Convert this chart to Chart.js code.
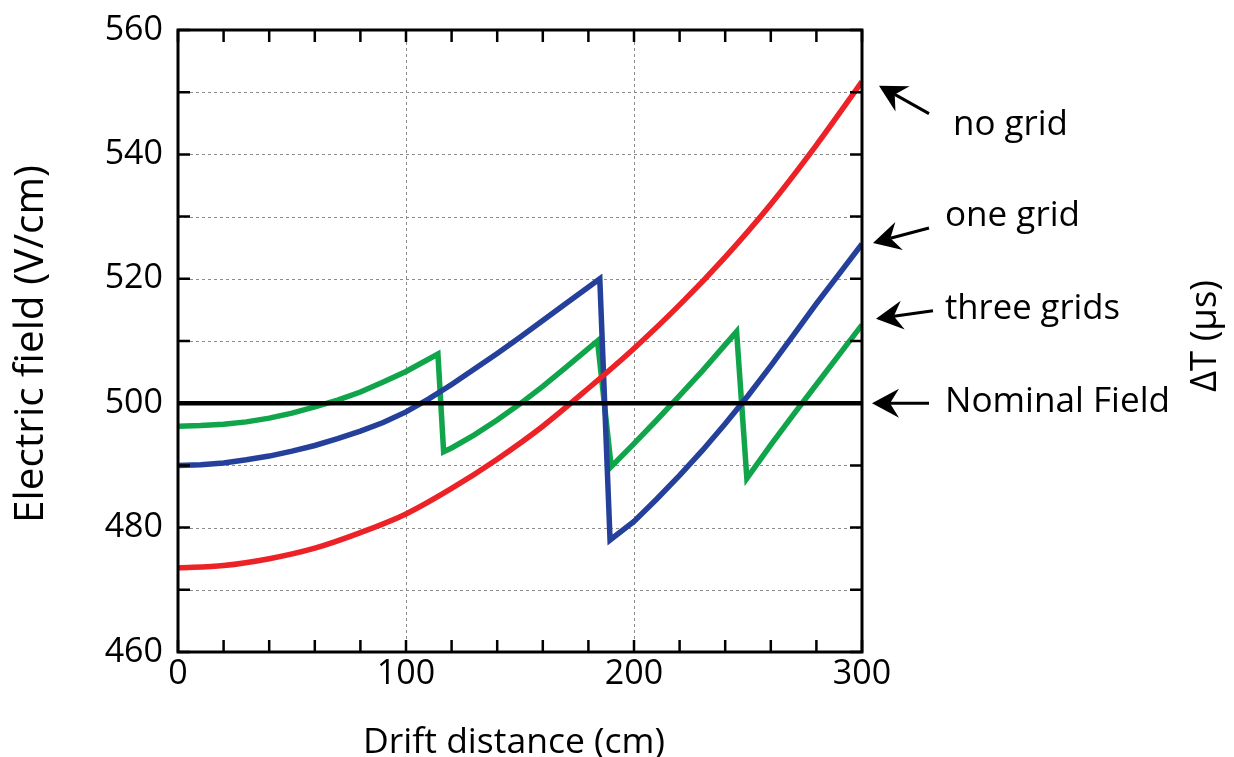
<!DOCTYPE html>
<html>
<head>
<meta charset="utf-8">
<script src="https://cdn.jsdelivr.net/npm/chart.js@4.4.1/dist/chart.umd.min.js"></script>
<style>
  html, body { margin: 0; padding: 0; background: #fff; }
  canvas { display: block; }
</style>
</head>
<body>
<canvas id="c" width="1234" height="757"></canvas>
<script>
// ---- data ----
const redX   = [0, 20, 40, 60, 80, 100, 120, 140, 160, 180, 200, 220, 240, 260, 280, 300];
const redY   = [473.5, 473.9, 475.0, 476.7, 479.2, 482.2, 486.3, 491.0, 496.3, 502.4, 508.8, 515.8, 523.5, 532.0, 541.5, 551.7];

const blueX  = [0, 10, 20, 30, 40, 50, 60, 70, 80, 90, 100, 110, 120, 130, 140, 150, 160, 170, 185,
                189.5, 200, 210, 220, 230, 240, 250, 260, 270, 280, 290, 300];
const blueY  = [490.0, 490.1, 490.4, 490.9, 491.5, 492.3, 493.2, 494.3, 495.5, 496.9, 498.6, 500.7, 503.0, 505.5, 508.0, 510.6, 513.3, 516.0, 520.0,
                478.0, 481.0, 484.6, 488.4, 492.4, 496.7, 501.2, 506.0, 511.0, 516.0, 520.8, 525.6];

const greenX = [0, 10, 20, 30, 40, 50, 60, 70, 80, 90, 100, 114,
                116.5, 120, 130, 140, 150, 160, 170, 184,
                190, 200, 210, 220, 230, 245,
                249.5, 260, 270, 280, 290, 300];
const greenY = [496.3, 496.4, 496.6, 497.0, 497.6, 498.4, 499.4, 500.5, 501.8, 503.4, 505.1, 507.9,
                492.2, 492.8, 494.9, 497.3, 499.9, 502.7, 505.7, 510.0,
                489.8, 493.5, 497.3, 501.2, 505.2, 511.5,
                487.9, 493.3, 498.2, 503.0, 507.8, 512.6];

const nominalX = [0, 300];
const nominalY = [500, 500];

const xTickLabels = [0, 100, 200, 300];
const yTickLabels = [460, 480, 500, 520, 540, 560];
const seriesNames = ['no grid', 'one grid', 'three grids', 'Nominal Field'];
const xTitle = 'Drift distance (cm)';
const yTitle = 'Electric field (V/cm)';
const y2Title = 'ΔT (μs)';

// ---- helpers ----
const pts = (xs, ys) => xs.map((x, i) => ({ x: x, y: ys[i] }));
const FONT = "'Open Sans', 'DejaVu Sans', sans-serif";

function fitFont(ctx, text, target, base) {
  ctx.font = base + 'px ' + FONT;
  const w = ctx.measureText(text).width;
  return (base * target / w);
}

function drawArrow(ctx, tx, ty, hx, hy) {
  const ang = Math.atan2(hy - ty, hx - tx);
  const L = 27, W = 14.5, N = 9;
  const ux = Math.cos(ang), uy = Math.sin(ang);
  const px = -uy, py = ux;
  const bx = hx - ux * L, by = hy - uy * L;
  const nx = hx - ux * (L - N), ny = hy - uy * (L - N);
  ctx.beginPath();
  ctx.moveTo(tx, ty);
  ctx.lineTo(nx, ny);
  ctx.lineWidth = 3;
  ctx.strokeStyle = '#000';
  ctx.stroke();
  ctx.beginPath();
  ctx.moveTo(hx, hy);
  ctx.lineTo(bx + px * W, by + py * W);
  ctx.lineTo(nx, ny);
  ctx.lineTo(bx - px * W, by - py * W);
  ctx.closePath();
  ctx.fillStyle = '#000';
  ctx.fill();
}

const deco = {
  id: 'deco',
  beforeDatasetsDraw(chart) {
    const { ctx, chartArea: a, scales: { x, y } } = chart;
    ctx.save();
    ctx.strokeStyle = '#8c8c8c';
    ctx.lineWidth = 1;
    ctx.setLineDash([3, 3]);
    y.ticks.forEach(t => {
      if (t.value <= y.min || t.value >= y.max) return;
      const py = Math.round(y.getPixelForValue(t.value)) + 0.5;
      ctx.beginPath(); ctx.moveTo(a.left, py); ctx.lineTo(a.right, py); ctx.stroke();
    });
    x.ticks.forEach(t => {
      if (t.value <= x.min || t.value >= x.max) return;
      if (!xTickLabels.includes(t.value)) return;
      const px = Math.round(x.getPixelForValue(t.value)) + 0.5;
      ctx.beginPath(); ctx.moveTo(px, a.top); ctx.lineTo(px, a.bottom); ctx.stroke();
    });
    ctx.restore();
  },
  afterDatasetsDraw(chart) {
    const { ctx, chartArea: a, scales: { x, y } } = chart;
    ctx.save();
    ctx.setLineDash([]);
    ctx.strokeStyle = '#000';
    ctx.lineWidth = 3;
    ctx.strokeRect(a.left, a.top, a.right - a.left, a.bottom - a.top);
    const TL = 12;
    ctx.lineWidth = 2.5;
    y.ticks.forEach(t => {
      const py = y.getPixelForValue(t.value);
      ctx.beginPath();
      ctx.moveTo(a.left, py); ctx.lineTo(a.left + TL, py);
      ctx.moveTo(a.right, py); ctx.lineTo(a.right - TL, py);
      ctx.stroke();
    });
    x.ticks.forEach(t => {
      const px = x.getPixelForValue(t.value);
      ctx.beginPath();
      ctx.moveTo(px, a.bottom); ctx.lineTo(px, a.bottom - TL);
      ctx.moveTo(px, a.top); ctx.lineTo(px, a.top + TL);
      ctx.stroke();
    });

    const ends = [redY[redY.length - 1], blueY[blueY.length - 1], greenY[greenY.length - 1], nominalY[nominalY.length - 1]];
    const ann = [
      { tipDx: 17, tipDy: 4,  tailDx: 67, tailDy: 32, textDx: 91, textDy: 53, w: 115 },
      { tipDx: 11, tipDy: -1, tailDx: 67, tailDy: -16, textDx: 83, textDy: -18, w: 135 },
      { tipDx: 14, tipDy: -6, tailDx: 71, tailDy: -14, textDx: 83, textDy: -6, w: 175 },
      { tipDx: 10, tipDy: 0,  tailDx: 67, tailDy: 0,  textDx: 83, textDy: 9,  w: 225 }
    ];
    ann.forEach((s, i) => {
      const ey = y.getPixelForValue(ends[i]);
      const hx = a.right + s.tipDx, hy = ey + s.tipDy;
      drawArrow(ctx, a.right + s.tailDx, ey + s.tailDy, hx, hy);
      const fs = fitFont(ctx, seriesNames[i], s.w, 34);
      ctx.font = fs.toFixed(2) + 'px ' + FONT;
      ctx.fillStyle = '#000';
      ctx.textAlign = 'left';
      ctx.textBaseline = 'alphabetic';
      ctx.fillText(seriesNames[i], a.right + s.textDx, ey + s.textDy);
    });

    ctx.fillStyle = '#000';
    let fs = fitFont(ctx, xTitle, 302, 34);
    ctx.font = fs.toFixed(2) + 'px ' + FONT;
    ctx.textAlign = 'center';
    ctx.textBaseline = 'alphabetic';
    ctx.fillText(xTitle, (a.left + a.right) / 2 - 6, a.bottom + 101);

    ctx.save();
    fs = fitFont(ctx, yTitle, 358, 34);
    ctx.font = fs.toFixed(2) + 'px ' + FONT;
    ctx.translate(a.left - 147, (a.top + a.bottom) / 2 + 3);
    ctx.rotate(-Math.PI / 2);
    ctx.textAlign = 'center';
    ctx.textBaseline = 'middle';
    ctx.fillText(yTitle, 0, 0);
    ctx.restore();

    ctx.save();
    fs = fitFont(ctx, y2Title, 112, 34);
    ctx.font = fs.toFixed(2) + 'px ' + FONT;
    ctx.translate(a.right + 344, (a.top + a.bottom) / 2 - 5);
    ctx.rotate(-Math.PI / 2);
    ctx.textAlign = 'center';
    ctx.textBaseline = 'middle';
    ctx.fillText(y2Title, 0, 0);
    ctx.restore();

    ctx.restore();
  }
};

const lineDs = (label, xs, ys, color, w, smooth) => ({
  label: label,
  data: pts(xs, ys),
  borderColor: color,
  backgroundColor: color,
  borderWidth: w,
  pointRadius: 0,
  pointHoverRadius: 0,
  tension: 0,
  cubicInterpolationMode: smooth ? 'monotone' : 'default',
  fill: false,
  borderJoinStyle: 'miter',
  borderCapStyle: 'butt'
});

new Chart(document.getElementById('c'), {
  type: 'line',
  data: {
    datasets: [
      lineDs(seriesNames[3], nominalX, nominalY, '#000000', 4.5, false),
      lineDs(seriesNames[0], redX, redY, '#ec2227', 5.5, true),
      lineDs(seriesNames[1], blueX, blueY, '#24409a', 5.5, false),
      lineDs(seriesNames[2], greenX, greenY, '#10a54a', 5.5, false)
    ]
  },
  options: {
    responsive: false,
    animation: false,
    events: [],
    layout: { padding: { left: 0, right: 372, top: 30, bottom: 0 } },
    plugins: { legend: { display: false }, tooltip: { enabled: false } },
    scales: {
      x: {
        type: 'linear',
        min: 0, max: 300,
        ticks: {
          stepSize: 20, autoSkip: false, maxRotation: 0, minRotation: 0,
          padding: 2,
          color: '#000',
          font: { family: FONT, size: 34 },
          callback: v => (xTickLabels.includes(v) ? String(v) : '')
        },
        grid: { display: false, drawTicks: false },
        border: { display: false },
        afterFit: s => { s.height = 105; s.paddingLeft = 0; s.paddingRight = 0; }
      },
      y: {
        type: 'linear',
        min: 460, max: 560,
        ticks: {
          stepSize: 10, autoSkip: false,
          padding: 15,
          color: '#000',
          font: { family: FONT, size: 34 },
          callback: v => (yTickLabels.includes(v) ? String(v) : '')
        },
        grid: { display: false, drawTicks: false },
        border: { display: false },
        afterFit: s => { s.width = 178; s.paddingTop = 0; s.paddingBottom = 0; }
      }
    }
  },
  plugins: [deco]
});
</script>
</body>
</html>
